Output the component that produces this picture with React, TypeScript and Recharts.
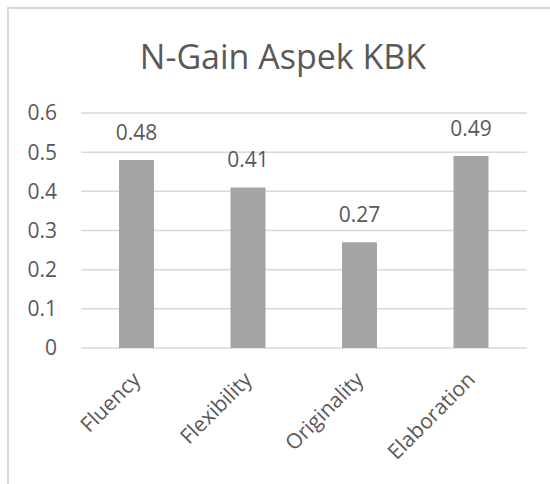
import React from 'react';
import { BarChart, Bar, XAxis, YAxis, CartesianGrid, LabelList } from 'recharts';

const categories = ['Fluency', 'Flexibility', 'Originality', 'Elaboration'];
const nGain = [0.48, 0.41, 0.27, 0.49];
const yTicks = [0, 0.1, 0.2, 0.3, 0.4, 0.5, 0.6];

const data = categories.map((name, i) => ({ name, value: nGain[i] }));

const FONT = '"Open Sans", "Segoe UI", sans-serif';
const TEXT = '#595959';

const AngledTick = ({ x, y, payload }: any) => (
    <g transform={`translate(${x + 5},${y + 33})`}>
        <text
            x={0}
            y={0}
            textAnchor="end"
            transform="rotate(-45)"
            fill={TEXT}
            fontSize={21}
            fontFamily={FONT}
        >
            {payload.value}
        </text>
    </g>
);

const App: React.FC = () => {
    return (
        <div style={{ position: 'fixed', left: 0, top: 0, width: 550, height: 484, overflow: 'hidden', background: '#fff' }}>
            <div
                style={{
                    position: 'absolute',
                    left: 7,
                    top: 7,
                    width: 600,
                    height: 600,
                    borderLeft: '2px solid #d9d9d9',
                    borderTop: '2px solid #d9d9d9',
                }}
            />
            <div
                style={{
                    position: 'absolute',
                    left: 8,
                    width: 550,
                    top: 36,
                    textAlign: 'center',
                    fontFamily: FONT,
                    fontSize: 34,
                    color: TEXT,
                    lineHeight: '40px',
                }}
            >
                N-Gain Aspek KBK
            </div>
            <div style={{ position: 'absolute', left: 0, top: 0 }}>
                <BarChart
                    width={550}
                    height={484}
                    data={data}
                    margin={{ top: 113, right: 23, left: 0, bottom: 0 }}
                >
                    <CartesianGrid vertical={false} stroke="#d9d9d9" strokeWidth={1.5} />
                    <XAxis
                        dataKey="name"
                        axisLine={false}
                        tickLine={false}
                        tickSize={0}
                        tickMargin={0}
                        height={136}
                        interval={0}
                        tick={<AngledTick />}
                    />
                    <YAxis
                        domain={[0, 0.6]}
                        ticks={yTicks}
                        width={81}
                        axisLine={false}
                        tickLine={false}
                        tickSize={0}
                        tickMargin={24}
                        tickFormatter={(v) => `${v}`}
                        tick={{ fill: TEXT, fontSize: 21, fontFamily: FONT }}
                    />
                    <Bar dataKey="value" fill="#a5a5a5" barSize={35} isAnimationActive={false}>
                        <LabelList
                            dataKey="value"
                            position="top"
                            offset={20}
                            fill={TEXT}
                            fontSize={21}
                            fontFamily={FONT}
                        />
                    </Bar>
                </BarChart>
            </div>
        </div>
    );
};

export default App;
